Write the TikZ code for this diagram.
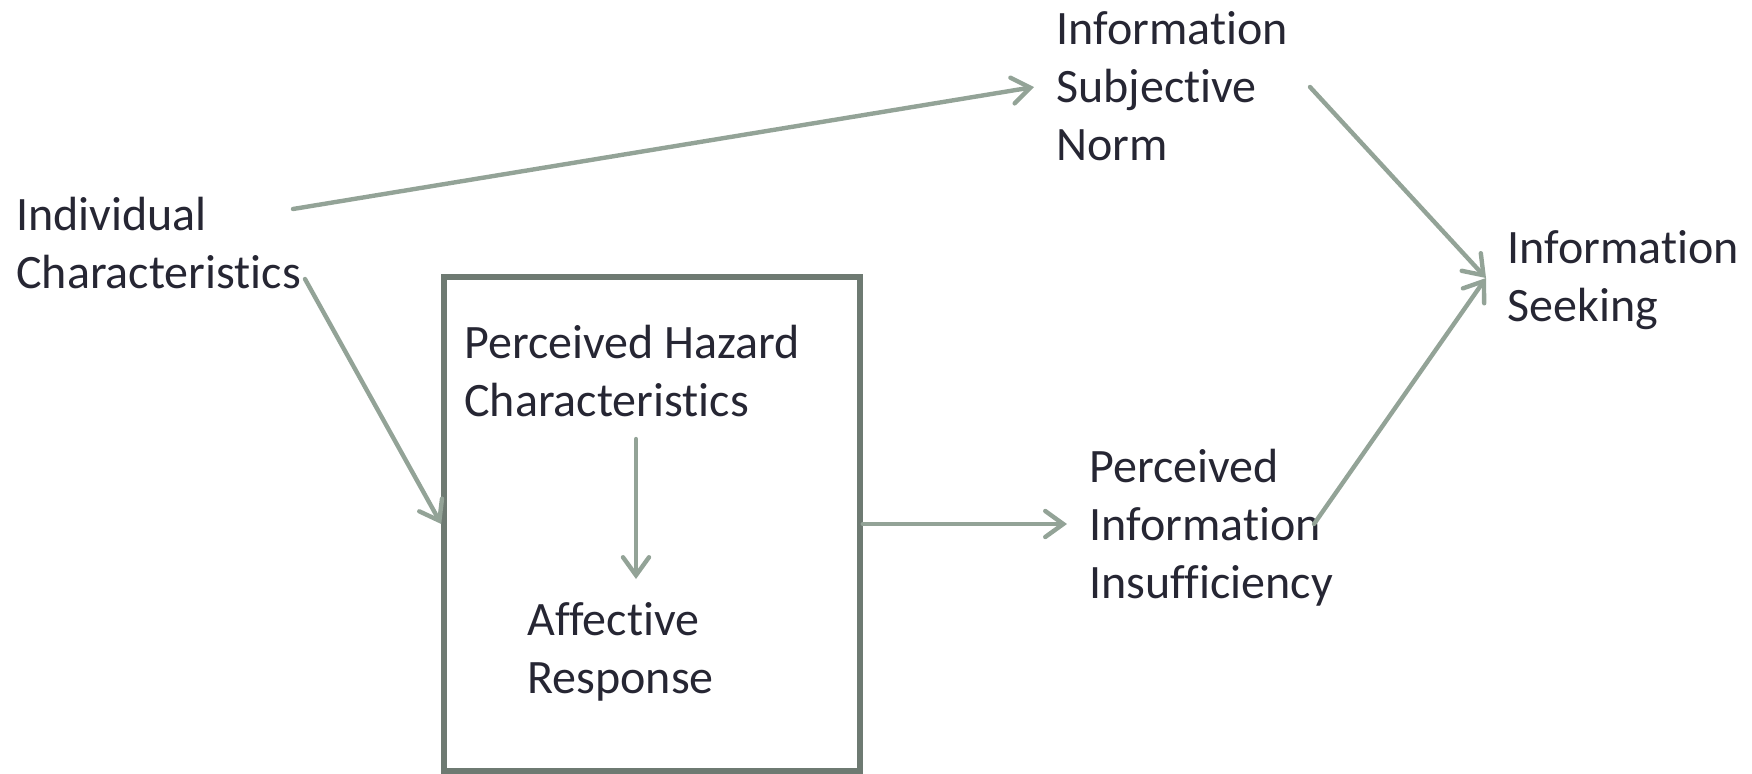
\documentclass[tikz,border=0pt]{standalone}
\usepackage{fontspec}
\setmainfont{Carlito}[Ligatures=NoCommon,Contextuals=NoAlternate]
\usetikzlibrary{arrows.meta}
\definecolor{txt}{HTML}{262633}
\definecolor{arr}{HTML}{93A397}
\definecolor{boxc}{HTML}{6E7A72}
\begin{document}
\begin{tikzpicture}[x=0.5pt,y=-0.5pt,
  lbl/.style={anchor=base west, inner sep=0pt, align=left, font=\fontsize{24}{29}\selectfont, text=txt},
  conn/.style={draw=arr, line width=2.2pt, line cap=round, -{Straight Barb[length=9pt,width=13pt,line cap=round]}},
  frame/.style={draw=boxc, line width=2.8pt, inner sep=0pt, minimum width=208pt, minimum height=247pt}]
\useasboundingbox (0,0) rectangle (1752,773);
\node[lbl] (indiv) at (16,288) {Individual\\Characteristics};
\node[lbl] (isn) at (1056,160) {Information\\Subjective\\Norm};
\node[lbl] (seek) at (1507,321) {Information\\Seeking};
\node[lbl] (pii) at (1089,598) {Perceived\\Information\\Insufficiency};
\node[frame] (box) at (652,524) {};
\node[lbl] (phc) at (464,416) {Perceived Hazard\\Characteristics};
\node[lbl] (aff) at (527,693) {Affective\\Response};
\coordinate (indivA) at (293,209);
\coordinate (isnIn) at (1034,87);
\coordinate (indivB) at (305,279);
\coordinate (isnOut) at (1310,87);
\coordinate (seekIn) at (1486,278);
\coordinate (piiIn) at (1067,524);
\coordinate (piiOut) at (1314,524);
\coordinate (phcOut) at (636,439);
\coordinate (affIn) at (636,579);
\draw[conn] (indivA) -- (isnIn);
\draw[conn] (indivB) -- (box.west);
\draw[conn] (box.east) -- (piiIn);
\draw[conn] (isnOut) -- (seekIn);
\draw[conn] (piiOut) -- (seekIn);
\draw[conn] (phcOut) -- (affIn);
\end{tikzpicture}
\end{document}
